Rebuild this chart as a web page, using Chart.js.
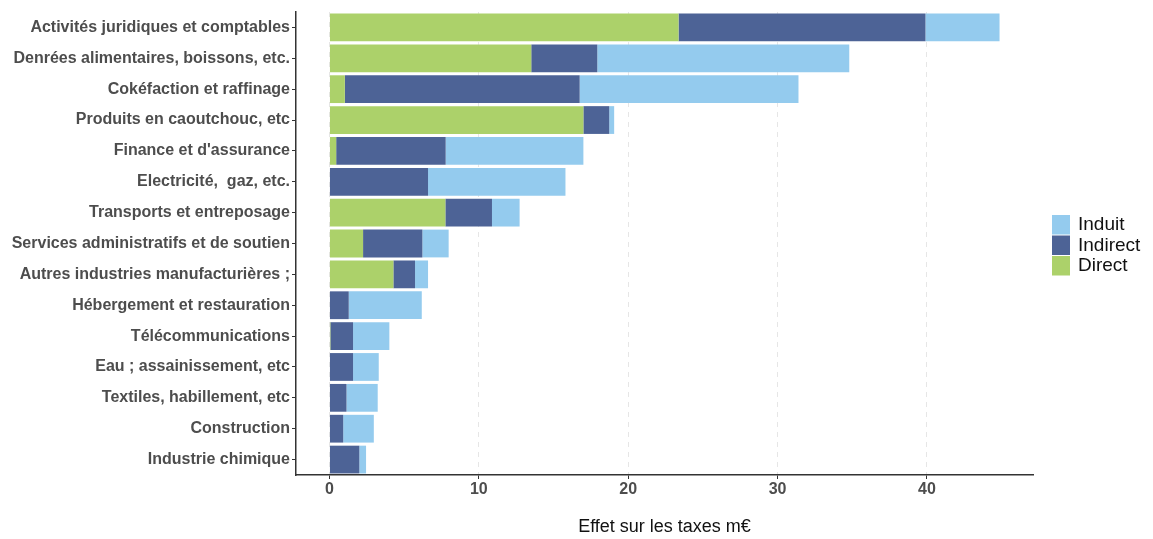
<!DOCTYPE html>
<html>
<head>
<meta charset="utf-8">
<script src="https://cdn.jsdelivr.net/npm/chart.js@4"></script>
<style>
	html, body { margin: 0; padding: 0; background: #fff; }
	#wrap { width: 1153px; height: 539px; }
</style>
</head>
<body>
<div id="wrap"><canvas id="taxes-chart"></canvas></div>
<script>
"use strict";

const sectors = [
	"Activités juridiques et comptables",
	"Denrées alimentaires, boissons, etc.",
	"Cokéfaction et raffinage",
	"Produits en caoutchouc, etc",
	"Finance et d'assurance",
	"Electricité,  gaz, etc.",
	"Transports et entreposage",
	"Services administratifs et de soutien",
	"Autres industries manufacturières ;",
	"Hébergement et restauration",
	"Télécommunications",
	"Eau ; assainissement, etc",
	"Textiles, habillement, etc",
	"Construction",
	"Industrie chimique"
];

const direct   = [23.37, 13.51, 1.03, 17.0, 0.45, 0.0, 7.76, 2.25, 4.28, 0.0, 0.06, 0.0, 0.0, 0.0, 0.0];
const indirect = [16.53, 4.42, 15.72, 1.73, 7.33, 6.6, 3.12, 3.97, 1.45, 1.29, 1.52, 1.58, 1.14, 0.92, 2.0];
const induit   = [4.96, 16.87, 14.65, 0.33, 9.22, 9.2, 1.85, 1.76, 0.87, 4.89, 2.43, 1.72, 2.09, 2.05, 0.45];

const xTicks = [0, 10, 20, 30, 40];

const axisColor = "#333333";
const labelColor = "#4d4d4d";
const fontFamily = "'Liberation Sans', Arial, sans-serif";

// ggplot-like legend to the right of the panel (Induit on top)
const sideLegend = {
	id: "sideLegend",
	afterDraw(chart){
		const ctx = chart.ctx;
		const sets = chart.data.datasets.slice().reverse();
		const x = chart.chartArea.right + 19;
		const top = 215;
		const step = 20.5;
		ctx.save();
		ctx.font = "19px " + fontFamily;
		ctx.textBaseline = "middle";
		sets.forEach((ds, i) => {
			const y = top + i * step;
			ctx.fillStyle = ds.backgroundColor;
			ctx.fillRect(x, y, 18, step - 1);
			ctx.fillStyle = "#111";
			ctx.fillText(ds.label, x + 26, y + step / 2);
		});
		ctx.restore();
	}
};

displayTaxesChart();

function displayTaxesChart(){
	const ctx = document.querySelector("#taxes-chart").getContext("2d");

	new Chart(ctx, {
		type: "bar",
		data: {
			labels: sectors,
			datasets: [
				{ label: "Direct", data: direct, backgroundColor: "#acd16a" },
				{ label: "Indirect", data: indirect, backgroundColor: "#4d6396" },
				{ label: "Induit", data: induit, backgroundColor: "#94cbee" }
			]
		},
		plugins: [sideLegend],
		options: {
			indexAxis: "y",
			responsive: true,
			maintainAspectRatio: false,
			animation: false,
			barPercentage: 0.9,
			categoryPercentage: 1,
			layout: {
				padding: { top: 12, right: 120, bottom: 0, left: 0 }
			},
			plugins: {
				tooltip: { enabled: false },
				legend: { display: false }
			},
			scales: {
				x: {
					stacked: true,
					min: -2.24,
					max: 47.1,
					afterBuildTicks: scale => {
						scale.ticks = xTicks.map(v => ({ value: v }));
					},
					afterFit: scale => {
						scale.height = 64;
					},
					grid: {
						color: "#e6e6e6",
						tickColor: axisColor,
						tickLength: 4,
						tickBorderDash: []
					},
					border: {
						display: true,
						color: axisColor,
						width: 1.5,
						dash: [5, 5]
					},
					ticks: {
						color: labelColor,
						padding: 1,
						font: { family: fontFamily, size: 16, weight: "bold" }
					},
					title: {
						display: true,
						text: "Effet sur les taxes m€",
						color: "#111",
						padding: { top: 14, bottom: 1 },
						font: { family: fontFamily, size: 18 }
					}
				},
				y: {
					stacked: true,
					afterFit: scale => {
						scale.width = 296;
					},
					grid: {
						display: true,
						offset: false,
						drawOnChartArea: false,
						tickColor: axisColor,
						tickLength: 4
					},
					border: {
						display: true,
						color: axisColor,
						width: 1.5
					},
					ticks: {
						color: labelColor,
						padding: 2,
						font: { family: fontFamily, size: 16, weight: "bold" }
					}
				}
			}
		}
	});
}
</script>
</body>
</html>
